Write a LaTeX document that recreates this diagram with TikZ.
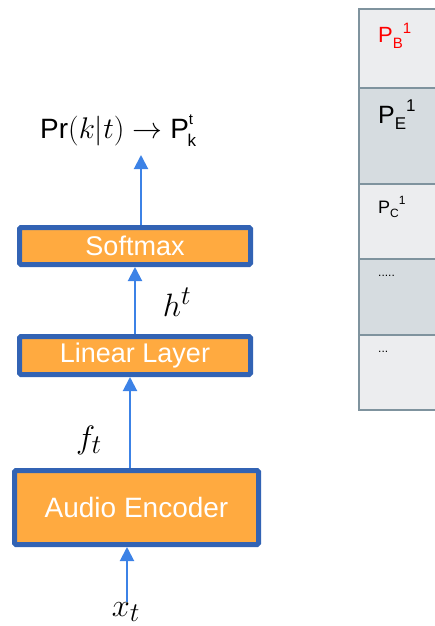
\documentclass[tikz,border=0pt]{standalone}
\usepackage{fontspec}
\setmainfont{Liberation Sans}
\usetikzlibrary{arrows.meta}
\definecolor{boxfill}{HTML}{FFAA40}
\definecolor{boxline}{HTML}{3263B4}
\definecolor{flow}{HTML}{3C82E6}
\definecolor{celllight}{HTML}{ECEDEF}
\definecolor{celldark}{HTML}{D6DCE0}
\definecolor{cellline}{HTML}{7F939E}
\tikzset{
  layer/.style={draw=boxline, fill=boxfill, line width=5pt, rounded corners=1.5pt,
    inner sep=0pt, text=white, font=\fontsize{27}{30}\selectfont},
  flowarrow/.style={draw=flow, line width=2pt, -{Triangle[width=14pt,length=14pt]}},
  % math fonts stop at 24.88pt, so the labels are scaled up
  mathlabel/.style={inner sep=0pt, font=\fontsize{24.88}{28}\selectfont, scale=1.3},
  cell/.style={draw=cellline, line width=2pt, minimum width=90pt, inner sep=0pt, anchor=north west},
  celltext/.style={inner sep=0pt, anchor=base west},
}
\begin{document}
\begin{tikzpicture}[x=1pt, y=-1pt]
\useasboundingbox (0,0) rectangle (435,626);

% network layers
\node[layer, minimum width=231pt, minimum height=37pt] (sm) at (135,246) {Softmax};
\node[layer, minimum width=231pt, minimum height=38pt] (lin) at (135,355.5) {Linear Layer};
\node[layer, minimum width=244pt, minimum height=74pt, font=\fontsize{28}{30}\selectfont] (enc) at (136.5,507.5) {Audio Encoder};

% labels
\node[inner sep=0pt, anchor=base west, scale=1.2, font=\fontsize{23.3}{26}\selectfont] (pr) at (40,138)
  {Pr{\fontsize{24.88}{28}\selectfont$(k|t)\rightarrow$} P\raisebox{0.5em}{\fontsize{12.5}{13}\selectfont t}\kern-0.2em\raisebox{-0.3em}{\fontsize{14.2}{15}\selectfont k}};
\coordinate (prfoot) at (120,155);
\node[mathlabel] (h) at (177,302) {$h^t$};
\node[mathlabel] (f) at (89,440) {$f_t$};
\node[mathlabel] (x) at (126,612) {$x_t$};

% data flow
\draw[flowarrow] ([xshift=1pt]x.north) -- ([xshift=-9.5pt]enc.south);
\draw[flowarrow] ([xshift=-6.5pt]enc.north) -- ([xshift=-5pt]lin.south);
\draw[flowarrow] (lin.north) -- (sm.south);
\draw[flowarrow] ([xshift=6pt]sm.north) -- ([xshift=6pt]sm.north |- prfoot);

% probability table
\node[cell, fill=celllight, minimum height=79pt] (c1) at (358,8) {};
\node[cell, fill=celldark,  minimum height=96pt] (c2) at (358,87) {};
\node[cell, fill=celllight, minimum height=75pt] (c3) at (358,183) {};
\node[cell, fill=celldark,  minimum height=76pt] (c4) at (358,258) {};
\node[cell, fill=celllight, minimum height=75pt] (c5) at (358,334) {};

\node[celltext, text=red, font=\fontsize{22}{24}\selectfont] (t1) at ([xshift=20pt,yshift=-35pt]c1.north west)
  {P\raisebox{-0.25em}{\fontsize{15}{15}\selectfont B}\raisebox{0.45em}{\fontsize{15}{15}\selectfont 1}};
\node[celltext, font=\fontsize{25}{27}\selectfont] (t2) at ([xshift=20pt,yshift=-36pt]c2.north west)
  {P\raisebox{-0.25em}{\fontsize{17}{17}\selectfont E}\raisebox{0.45em}{\fontsize{17}{17}\selectfont 1}};
\node[celltext, font=\fontsize{18}{20}\selectfont] (t3) at ([xshift=20pt,yshift=-30pt]c3.north west)
  {P\raisebox{-0.25em}{\fontsize{12}{12}\selectfont C}\raisebox{0.45em}{\fontsize{12}{12}\selectfont 1}};
\node[celltext, font=\fontsize{12}{12}\selectfont] (t4) at ([xshift=20pt,yshift=-18pt]c4.north west) {.....};
\node[celltext, font=\fontsize{12}{12}\selectfont] (t5) at ([xshift=20pt,yshift=-18pt]c5.north west) {...};
\end{tikzpicture}
\end{document}
